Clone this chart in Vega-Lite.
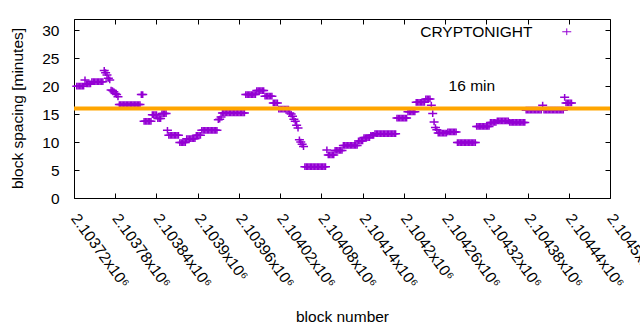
{
  "$schema": "https://vega.github.io/schema/vega-lite/v6.json",
  "width": 536,
  "height": 179,
  "autosize": "none",
  "padding": {"left": 74, "top": 19, "right": 30, "bottom": 132},
  "background": "#ffffff",
  "config": {
    "font": "Liberation Sans",
    "view": {"stroke": "#000000", "strokeWidth": 1},
    "axis": {
      "domain": false, "grid": false, "ticks": true, "tickSize": -5, "tickColor": "#000000", "tickWidth": 1,
      "labelFont": "Liberation Sans", "labelFontSize": 15.5, "labelColor": "#000000",
      "titleFont": "Liberation Sans", "titleFontSize": 15.5, "titleFontWeight": "normal", "titleColor": "#000000"
    }
  },
  "datasets": {
    "blocks": [
      {"b":2103724,"v":20},{"b":2103726,"v":20},{"b":2103728,"v":20},{"b":2103730,"v":20},{"b":2103732,"v":20},{"b":2103734,"v":20},
      {"b":2103736,"v":21.1},
      {"b":2103738,"v":20.4},{"b":2103740,"v":20.4},{"b":2103742,"v":20.4},{"b":2103744,"v":20.4},
      {"b":2103746,"v":20.8},{"b":2103748,"v":20.8},{"b":2103750,"v":20.8},{"b":2103752,"v":20.8},{"b":2103754,"v":20.8},{"b":2103756,"v":20.8},{"b":2103758,"v":20.8},{"b":2103760,"v":20.8},{"b":2103762,"v":20.8},
      {"b":2103764,"v":22.8},{"b":2103766,"v":22.4},{"b":2103768,"v":22},{"b":2103770,"v":21.4},{"b":2103772,"v":21.1},
      {"b":2103774,"v":19.3},{"b":2103776,"v":19.2},{"b":2103778,"v":19},{"b":2103780,"v":18.7},{"b":2103782,"v":18.5},{"b":2103784,"v":18.1},
      {"b":2103786,"v":16.7},{"b":2103788,"v":16.7},{"b":2103790,"v":16.7},{"b":2103792,"v":16.7},{"b":2103794,"v":16.7},{"b":2103796,"v":16.7},{"b":2103798,"v":16.7},{"b":2103800,"v":16.7},{"b":2103802,"v":16.7},{"b":2103804,"v":16.7},{"b":2103806,"v":16.7},{"b":2103808,"v":16.7},{"b":2103810,"v":16.7},{"b":2103812,"v":16.7},{"b":2103814,"v":16.7},{"b":2103816,"v":16.7},
      {"b":2103818,"v":18.5},{"b":2103820,"v":18.5},
      {"b":2103822,"v":13.7},{"b":2103824,"v":13.7},{"b":2103826,"v":13.7},{"b":2103828,"v":13.7},{"b":2103830,"v":13.7},{"b":2103832,"v":13.7},
      {"b":2103834,"v":14.9},{"b":2103836,"v":14.9},{"b":2103838,"v":14.9},{"b":2103840,"v":14.9},
      {"b":2103842,"v":14.2},{"b":2103844,"v":14.2},{"b":2103846,"v":14.2},
      {"b":2103848,"v":15.1},{"b":2103850,"v":15.1},{"b":2103852,"v":15.1},{"b":2103854,"v":15.1},
      {"b":2103856,"v":12.1},
      {"b":2103858,"v":11.2},{"b":2103860,"v":11.2},{"b":2103862,"v":11.2},{"b":2103864,"v":11.2},{"b":2103866,"v":11.2},{"b":2103868,"v":11.2},{"b":2103870,"v":11.2},{"b":2103872,"v":11.2},
      {"b":2103874,"v":9.9},{"b":2103876,"v":9.9},{"b":2103878,"v":9.9},{"b":2103880,"v":9.9},{"b":2103882,"v":9.9},
      {"b":2103884,"v":10.6},{"b":2103886,"v":10.6},{"b":2103888,"v":10.6},{"b":2103890,"v":10.6},{"b":2103892,"v":10.6},{"b":2103894,"v":10.6},{"b":2103896,"v":10.6},
      {"b":2103898,"v":11.2},{"b":2103900,"v":11.2},{"b":2103902,"v":11.2},{"b":2103904,"v":11.2},
      {"b":2103906,"v":12.1},{"b":2103908,"v":12.1},{"b":2103910,"v":12.1},{"b":2103912,"v":12.1},{"b":2103914,"v":12.1},{"b":2103916,"v":12.1},{"b":2103918,"v":12.1},{"b":2103920,"v":12.1},{"b":2103922,"v":12.1},{"b":2103924,"v":12.1},{"b":2103926,"v":12.1},{"b":2103928,"v":12.1},
      {"b":2103930,"v":14},{"b":2103932,"v":14.1},{"b":2103934,"v":14.5},
      {"b":2103936,"v":15.2},{"b":2103938,"v":15.2},{"b":2103940,"v":15.2},{"b":2103942,"v":15.2},{"b":2103944,"v":15.2},{"b":2103946,"v":15.2},{"b":2103948,"v":15.2},{"b":2103950,"v":15.2},{"b":2103952,"v":15.2},{"b":2103954,"v":15.2},{"b":2103956,"v":15.2},{"b":2103958,"v":15.2},{"b":2103960,"v":15.2},{"b":2103962,"v":15.2},{"b":2103964,"v":15.2},{"b":2103966,"v":15.2},{"b":2103968,"v":15.2},
      {"b":2103970,"v":18.5},{"b":2103972,"v":18.5},{"b":2103974,"v":18.5},{"b":2103976,"v":18.5},{"b":2103978,"v":18.5},{"b":2103980,"v":18.5},{"b":2103982,"v":18.5},{"b":2103984,"v":18.5},
      {"b":2103986,"v":19.2},{"b":2103988,"v":19.2},{"b":2103990,"v":19.2},{"b":2103992,"v":19.2},{"b":2103994,"v":19.2},{"b":2103996,"v":19.2},
      {"b":2103998,"v":18.2},{"b":2104000,"v":18.2},{"b":2104002,"v":18.2},{"b":2104004,"v":18.2},{"b":2104006,"v":18.2},{"b":2104008,"v":18.2},
      {"b":2104010,"v":17},{"b":2104012,"v":17},{"b":2104014,"v":17},{"b":2104016,"v":17},
      {"b":2104018,"v":15.9},{"b":2104020,"v":15.9},{"b":2104022,"v":15.9},{"b":2104024,"v":15.9},{"b":2104026,"v":15.9},{"b":2104028,"v":15.9},{"b":2104030,"v":15.9},{"b":2104032,"v":15.9},
      {"b":2104034,"v":15.2},{"b":2104036,"v":15},{"b":2104038,"v":14.6},{"b":2104040,"v":14.1},{"b":2104042,"v":13.7},{"b":2104044,"v":13},{"b":2104046,"v":12.5},{"b":2104048,"v":10.4},{"b":2104050,"v":10},{"b":2104052,"v":9.6},{"b":2104054,"v":9.2},
      {"b":2104056,"v":5.6},{"b":2104058,"v":5.6},{"b":2104060,"v":5.6},{"b":2104062,"v":5.6},{"b":2104064,"v":5.6},{"b":2104066,"v":5.6},{"b":2104068,"v":5.6},{"b":2104070,"v":5.6},{"b":2104072,"v":5.6},{"b":2104074,"v":5.6},{"b":2104076,"v":5.6},{"b":2104078,"v":5.6},{"b":2104080,"v":5.6},{"b":2104082,"v":5.6},{"b":2104084,"v":5.6},{"b":2104086,"v":5.6},
      {"b":2104088,"v":8.6},
      {"b":2104090,"v":7.7},{"b":2104092,"v":7.7},{"b":2104094,"v":7.7},{"b":2104096,"v":7.7},{"b":2104098,"v":7.7},
      {"b":2104100,"v":8.5},{"b":2104102,"v":8.5},{"b":2104104,"v":8.5},{"b":2104106,"v":8.5},{"b":2104108,"v":8.5},{"b":2104110,"v":8.5},
      {"b":2104112,"v":9.4},{"b":2104114,"v":9.4},{"b":2104116,"v":9.4},{"b":2104118,"v":9.4},{"b":2104120,"v":9.4},{"b":2104122,"v":9.4},{"b":2104124,"v":9.4},{"b":2104126,"v":9.4},{"b":2104128,"v":9.4},{"b":2104130,"v":9.4},{"b":2104132,"v":9.4},
      {"b":2104134,"v":10.2},{"b":2104136,"v":10.2},{"b":2104138,"v":10.2},{"b":2104140,"v":10.2},
      {"b":2104142,"v":10.8},{"b":2104144,"v":10.8},{"b":2104146,"v":10.8},{"b":2104148,"v":10.8},{"b":2104150,"v":10.8},
      {"b":2104152,"v":11.2},{"b":2104154,"v":11.2},{"b":2104156,"v":11.2},
      {"b":2104158,"v":11.5},{"b":2104160,"v":11.5},{"b":2104162,"v":11.5},{"b":2104164,"v":11.5},{"b":2104166,"v":11.5},{"b":2104168,"v":11.5},{"b":2104170,"v":11.5},{"b":2104172,"v":11.5},{"b":2104174,"v":11.5},{"b":2104176,"v":11.5},{"b":2104178,"v":11.5},{"b":2104180,"v":11.5},{"b":2104182,"v":11.5},{"b":2104184,"v":11.5},{"b":2104186,"v":11.5},{"b":2104188,"v":11.5},
      {"b":2104190,"v":14.3},{"b":2104192,"v":14.3},{"b":2104194,"v":14.3},{"b":2104196,"v":14.3},{"b":2104198,"v":14.3},{"b":2104200,"v":14.3},{"b":2104202,"v":14.3},{"b":2104204,"v":14.3},
      {"b":2104206,"v":15.4},{"b":2104208,"v":15.4},{"b":2104210,"v":15.4},{"b":2104212,"v":15.4},{"b":2104214,"v":15.4},{"b":2104216,"v":15.4},
      {"b":2104218,"v":17.1},{"b":2104220,"v":17.1},{"b":2104222,"v":17.1},{"b":2104224,"v":17.1},{"b":2104226,"v":17.1},{"b":2104228,"v":17.1},{"b":2104230,"v":17.1},
      {"b":2104232,"v":17.7},{"b":2104234,"v":17.7},{"b":2104236,"v":17.7},{"b":2104238,"v":17.7},
      {"b":2104240,"v":16.6},{"b":2104242,"v":15.1},{"b":2104244,"v":13.6},{"b":2104246,"v":12.6},{"b":2104248,"v":12.2},
      {"b":2104250,"v":11.6},{"b":2104252,"v":11.6},{"b":2104254,"v":11.6},{"b":2104256,"v":11.6},{"b":2104258,"v":11.6},{"b":2104260,"v":11.6},{"b":2104262,"v":11.6},
      {"b":2104264,"v":11.8},{"b":2104266,"v":11.8},{"b":2104268,"v":11.8},{"b":2104270,"v":11.8},{"b":2104272,"v":11.8},{"b":2104274,"v":11.8},{"b":2104276,"v":11.8},
      {"b":2104278,"v":9.9},{"b":2104280,"v":9.9},{"b":2104282,"v":9.9},{"b":2104284,"v":9.9},{"b":2104286,"v":9.9},{"b":2104288,"v":9.9},{"b":2104290,"v":9.9},{"b":2104292,"v":9.9},{"b":2104294,"v":9.9},{"b":2104296,"v":9.9},{"b":2104298,"v":9.9},{"b":2104300,"v":9.9},{"b":2104302,"v":9.9},{"b":2104304,"v":9.9},
      {"b":2104306,"v":12.8},{"b":2104308,"v":12.8},{"b":2104310,"v":12.8},{"b":2104312,"v":12.8},{"b":2104314,"v":12.8},{"b":2104316,"v":12.8},{"b":2104318,"v":12.8},{"b":2104320,"v":12.8},{"b":2104322,"v":12.8},{"b":2104324,"v":12.8},
      {"b":2104326,"v":13.5},{"b":2104328,"v":13.5},{"b":2104330,"v":13.5},{"b":2104332,"v":13.5},{"b":2104334,"v":13.5},
      {"b":2104336,"v":13.8},{"b":2104338,"v":13.8},{"b":2104340,"v":13.8},{"b":2104342,"v":13.8},{"b":2104344,"v":13.8},{"b":2104346,"v":13.8},{"b":2104348,"v":13.8},{"b":2104350,"v":13.8},{"b":2104352,"v":13.8},
      {"b":2104354,"v":13.5},{"b":2104356,"v":13.5},{"b":2104358,"v":13.5},{"b":2104360,"v":13.5},{"b":2104362,"v":13.5},{"b":2104364,"v":13.5},{"b":2104366,"v":13.5},{"b":2104368,"v":13.5},{"b":2104370,"v":13.5},{"b":2104372,"v":13.5},{"b":2104374,"v":13.5},{"b":2104376,"v":13.5},
      {"b":2104378,"v":15.7},{"b":2104380,"v":15.7},{"b":2104382,"v":15.7},{"b":2104384,"v":15.7},{"b":2104386,"v":15.7},{"b":2104388,"v":15.7},{"b":2104390,"v":15.7},{"b":2104392,"v":15.7},{"b":2104394,"v":15.7},{"b":2104396,"v":15.7},{"b":2104398,"v":15.7},{"b":2104400,"v":15.7},
      {"b":2104402,"v":16.6},
      {"b":2104404,"v":15.7},{"b":2104406,"v":15.7},{"b":2104408,"v":15.7},{"b":2104410,"v":15.7},{"b":2104412,"v":15.7},{"b":2104414,"v":15.7},{"b":2104416,"v":15.7},{"b":2104418,"v":15.7},{"b":2104420,"v":15.7},{"b":2104422,"v":15.7},{"b":2104424,"v":15.7},{"b":2104426,"v":15.7},{"b":2104428,"v":15.7},{"b":2104430,"v":15.7},{"b":2104432,"v":15.7},
      {"b":2104434,"v":18},
      {"b":2104436,"v":17},{"b":2104438,"v":17},{"b":2104440,"v":17},{"b":2104442,"v":17},{"b":2104444,"v":17}
    ]
  },
  "resolve": {"axis": {"x": "independent", "y": "independent"}},
  "layer": [
    {
      "data": {"name": "blocks"},
      "mark": {"type": "point", "shape": "M-1,0H1M0,-0.75V0.75", "size": 81, "filled": false, "strokeWidth": 1.5, "opacity": 1},
      "encoding": {
        "x": {
          "field": "b", "type": "quantitative",
          "scale": {"domain": [2103720, 2104500], "nice": false, "zero": false},
          "axis": {
            "orient": "bottom",
            "values": [2103720, 2103780, 2103840, 2103900, 2103960, 2104020, 2104080, 2104140, 2104200, 2104260, 2104320, 2104380, 2104440, 2104500],
            "labelExpr": "format(datum.value / 1000000, '.5~f') + 'x10⁶'",
            "labelAngle": 54, "labelAlign": "left", "labelBaseline": "middle", "labelPadding": 22,
            "labelOverlap": false, "labelFlush": false, "labelBound": false,
            "title": "block number", "titleY": 118, "titleBaseline": "middle"
          }
        },
        "y": {
          "field": "v", "type": "quantitative",
          "scale": {"domain": [0, 32], "nice": false, "zero": true},
          "axis": {
            "orient": "left",
            "values": [0, 5, 10, 15, 20, 25, 30],
            "labelPadding": 20, "labelBaseline": "middle",
            "title": "block spacing [minutes]", "titleX": -57, "titleY": 89, "titleAngle": -90,
            "titleAlign": "center", "titleBaseline": "middle"
          }
        },
        "color": {
          "datum": "CRYPTONIGHT", "type": "nominal",
          "scale": {"range": ["#9400d3"]},
          "legend": {
            "orient": "none", "legendX": 485, "legendY": 5, "title": null, "padding": 0,
            "symbolType": "M-1,0H1M0,-0.75V0.75", "symbolSize": 81, "symbolStrokeWidth": 1,
            "symbolStrokeColor": "#9400d3", "symbolFillColor": "transparent",
            "labelFont": "Liberation Sans", "labelFontSize": 15.5, "labelColor": "#000000",
            "labelAlign": "right", "labelOffset": -42, "labelBaseline": "middle"
          }
        }
      }
    },
    {
      "data": {"values": [{"v": 16}]},
      "mark": {"type": "rule", "color": "#ffa500", "strokeWidth": 4},
      "encoding": {
        "y": {
          "field": "v", "type": "quantitative",
          "axis": {"orient": "right", "values": [0, 5, 10, 15, 20, 25, 30], "labels": false, "title": null}
        }
      }
    },
    {
      "data": {"values": [{"b": 2104299, "v": 20, "t": "16 min"}]},
      "mark": {"type": "text", "font": "Liberation Sans", "fontSize": 15.5, "color": "#000000", "align": "center", "baseline": "middle"},
      "encoding": {
        "x": {
          "field": "b", "type": "quantitative",
          "axis": {
            "orient": "top",
            "values": [2103720, 2103780, 2103840, 2103900, 2103960, 2104020, 2104080, 2104140, 2104200, 2104260, 2104320, 2104380, 2104440, 2104500],
            "labels": false, "title": null
          }
        },
        "y": {"field": "v", "type": "quantitative", "axis": null},
        "text": {"field": "t"}
      }
    }
  ]
}
